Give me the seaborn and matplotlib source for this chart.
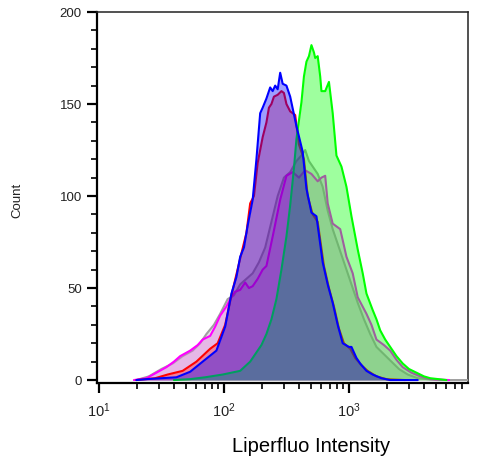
import numpy as np
import matplotlib
matplotlib.use("Agg")
import matplotlib.pyplot as plt
from matplotlib.ticker import LogLocator, MultipleLocator, LogFormatterMathtext
import seaborn as sns

# ---- data (log10 intensity, count) ----
GRAY_LOGX = [1.30, 1.40, 1.50, 1.59, 1.67, 1.75, 1.81, 1.86, 1.92, 1.97, 2.03, 2.08, 2.13, 2.18, 2.23,
             2.28, 2.33, 2.38, 2.43, 2.48, 2.53, 2.58, 2.62, 2.65, 2.68, 2.71, 2.75, 2.79, 2.83, 2.87,
             2.92, 2.97, 3.02, 3.07, 3.12, 3.17, 3.22, 3.28, 3.34, 3.40, 3.47, 3.55, 3.70, 3.95]
GRAY_Y = [0, 2, 6, 9, 13, 16, 20, 25, 30, 36, 44, 46, 52, 55, 58,
          64, 72, 86, 100, 110, 113, 119, 122, 125, 119, 116, 112, 105, 92, 82,
          72, 62, 52, 42, 33, 25, 18, 14, 10, 6, 3, 1, 0, 0]

MAG_LOGX = [1.28, 1.38, 1.46, 1.54, 1.60, 1.65, 1.73, 1.79, 1.83, 1.89, 1.93, 1.97, 2.02, 2.05, 2.09,
            2.13, 2.17, 2.20, 2.23, 2.27, 2.31, 2.34, 2.39, 2.45, 2.50, 2.55, 2.60, 2.65, 2.70, 2.75,
            2.78, 2.81, 2.83, 2.87, 2.93, 2.98, 3.03, 3.07, 3.14, 3.18, 3.22, 3.28, 3.33, 3.38, 3.43,
            3.50, 3.57, 3.65, 3.80]
MAG_Y = [0, 1, 4, 7, 10, 13, 16, 19, 22, 24, 29, 35, 40, 44, 48,
         49, 53, 50, 51, 55, 60, 62, 78, 98, 111, 113, 110, 114, 112, 108,
         110, 111, 96, 85, 82, 67, 58, 45, 36, 30, 22, 19, 16, 11, 7,
         4, 2, 0.5, 0]

RED_LOGX = [1.30, 1.45, 1.55, 1.67, 1.78, 1.89, 1.95, 2.01, 2.06, 2.13, 2.18, 2.21, 2.24, 2.27, 2.29,
            2.31, 2.34, 2.36, 2.38, 2.40, 2.43, 2.46, 2.48, 2.50, 2.53, 2.57, 2.60, 2.64, 2.67, 2.71,
            2.75, 2.80, 2.84, 2.88, 2.92, 2.96, 3.01, 3.05, 3.10, 3.15, 3.22, 3.30, 3.45]
RED_Y = [0, 1, 3, 5, 10, 17, 20, 30, 46, 66, 80, 96, 100, 118, 125,
         132, 140, 148, 150, 154, 155, 157, 156, 150, 146, 144, 128, 120, 100, 90,
         86, 62, 50, 40, 28, 20, 17, 12, 8, 5, 2, 0.5, 0]

GREEN_LOGX = [1.60, 1.73, 1.85, 1.99, 2.13, 2.21, 2.26, 2.30, 2.34, 2.38, 2.42, 2.46, 2.50, 2.53, 2.56,
              2.58, 2.62, 2.64, 2.66, 2.68, 2.70, 2.72, 2.73, 2.75, 2.77, 2.78, 2.81, 2.84, 2.87, 2.90,
              2.94, 2.98, 3.02, 3.07, 3.11, 3.14, 3.19, 3.22, 3.25, 3.29, 3.33, 3.38, 3.43, 3.48, 3.54,
              3.60, 3.65, 3.78]
GREEN_Y = [0, 0.5, 1.5, 3, 5, 10, 15, 19, 25, 33, 44, 60, 78, 95, 115,
           131, 151, 165, 173, 176, 182, 178, 175, 176, 165, 157, 157, 162, 145, 122,
           116, 105, 89, 71, 58, 47, 38, 33, 27, 22, 18, 13, 9, 6, 4,
           2, 1, 0]

BLUE_LOGX = [1.30, 1.38, 1.50, 1.62, 1.73, 1.83, 1.94, 2.01, 2.06, 2.10, 2.13, 2.16, 2.19, 2.23, 2.26,
             2.29, 2.31, 2.34, 2.37, 2.39, 2.41, 2.43, 2.45, 2.47, 2.50, 2.53, 2.58, 2.63, 2.66, 2.70,
             2.74, 2.79, 2.83, 2.87, 2.91, 2.95, 3.00, 3.02, 3.06, 3.09, 3.14, 3.19, 3.26, 3.33, 3.55]
BLUE_Y = [0, 0.5, 1, 1.5, 4.5, 10, 16, 29, 47, 56, 67, 72, 84, 98, 120,
          145, 148, 153, 159, 157, 160, 158, 167, 161, 160, 154, 138, 124, 104, 91,
          89, 64, 52, 42, 30, 20, 18, 18, 12, 9, 5, 3, 1, 0, 0]

SERIES = [
    ("gray", GRAY_LOGX, GRAY_Y, "#a0a0a0", "#909090", 0.25),
    ("magenta", MAG_LOGX, MAG_Y, "#ff00ff", "#ee55ee", 0.30),
    ("red", RED_LOGX, RED_Y, "#ff0000", "#ff0000", 0.30),
    ("green", GREEN_LOGX, GREEN_Y, "#00ff00", "#00ff00", 0.38),
    ("blue", BLUE_LOGX, BLUE_Y, "#0000ff", "#0000ff", 0.38),
]

YTICKS = [0, 50, 100, 150, 200]
XLABEL = "Liperfluo Intensity"
YLABEL = "Count"

sns.set_style("ticks")
plt.rcParams["font.family"] = ["Liberation Sans", "DejaVu Sans"]
plt.rcParams["mathtext.fontset"] = "custom"
plt.rcParams["mathtext.rm"] = "Liberation Sans"
plt.rcParams["mathtext.it"] = "Liberation Sans"
plt.rcParams["mathtext.bf"] = "Liberation Sans"

fig = plt.figure(figsize=(4.78, 4.73), dpi=100)
ax = fig.add_axes([97 / 478, (473 - 383) / 473, 371 / 478, 371 / 473])

for i, (name, lx, yv, lc, fc, a) in enumerate(SERIES):
    xv = 10 ** np.asarray(lx)
    ax.fill_between(xv, 0, yv, color=fc, alpha=a, linewidth=0, zorder=2 + 2 * i)
    sns.lineplot(x=xv, y=yv, ax=ax, color=lc, linewidth=1.5, sort=True, zorder=3 + 2 * i)

ax.set_xscale("log")
ax.set_xlim(10 ** 0.985, 10 ** 3.952)
ax.set_ylim(-1.6, 200)

ax.xaxis.set_major_locator(LogLocator(base=10, numticks=10))
ax.xaxis.set_minor_locator(LogLocator(base=10, subs=np.arange(2, 10), numticks=20))
ax.xaxis.set_major_formatter(LogFormatterMathtext())
ax.yaxis.set_major_locator(MultipleLocator(50))
ax.yaxis.set_minor_locator(MultipleLocator(10))
ax.set_yticks(YTICKS)

ax.tick_params(axis="both", which="major", length=7, width=1.6, color="black",
               labelcolor="#222222")
ax.tick_params(axis="y", which="major", labelsize=9.5, pad=4)
ax.tick_params(axis="x", which="major", labelsize=10.5, pad=6)
ax.tick_params(axis="both", which="minor", length=4, width=1.2, color="black")

for s in ["left", "bottom"]:
    ax.spines[s].set_linewidth(1.6)
    ax.spines[s].set_color("black")
for s in ["top", "right"]:
    ax.spines[s].set_visible(True)
    ax.spines[s].set_linewidth(1.1)
    ax.spines[s].set_color("#222222")

ax.set_xlabel(XLABEL, fontsize=14.5, color="black")
ax.xaxis.set_label_coords((311 - 97) / 371, (383 - 446) / 371)
ax.xaxis.label.set_verticalalignment("center")
ax.set_ylabel(YLABEL, fontsize=9.5, color="#222222")
ax.yaxis.set_label_coords((17 - 97) / 371, (383 - 200) / 371)
ax.yaxis.label.set_verticalalignment("center")

fig.savefig("out.png", dpi=100)
